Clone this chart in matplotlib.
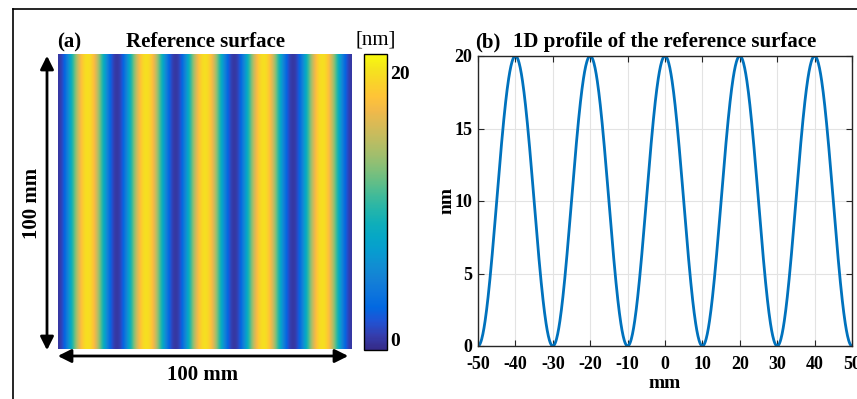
import numpy as np
import matplotlib
matplotlib.use('Agg')
import matplotlib.pyplot as plt
from matplotlib.colors import LinearSegmentedColormap, Normalize

# values
x_range_mm = [-50, 50]        # width of the reference surface
period_mm = 20                # distance between crests
peak_nm = 20                  # crest height
x_ticks = [-50, -40, -30, -20, -10, 0, 10, 20, 30, 40, 50]
y_ticks = [0, 5, 10, 15, 20]
cbar_ticks = [0, 20]
cbar_lim = [-0.8, 21.4]

# MATLAB parula (every 3rd entry of the 64 colour table)
parula_pts = [
    [0.2081, 0.1663, 0.5292], [0.2081, 0.2386, 0.6771], [0.1253, 0.3242, 0.8303],
    [0.0060, 0.4086, 0.8828], [0.0498, 0.4586, 0.8641], [0.0779, 0.5040, 0.8384],
    [0.0641, 0.5570, 0.8240], [0.0265, 0.6137, 0.8135], [0.0228, 0.6535, 0.7768],
    [0.0590, 0.6838, 0.7254], [0.1453, 0.7098, 0.6646], [0.2586, 0.7317, 0.5954],
    [0.3953, 0.7459, 0.5244], [0.5300, 0.7491, 0.4661], [0.6473, 0.7456, 0.4188],
    [0.7525, 0.7384, 0.3768], [0.8507, 0.7299, 0.3360], [0.9450, 0.7261, 0.2886],
    [0.9990, 0.7653, 0.2164], [0.9789, 0.8271, 0.1633], [0.9589, 0.8949, 0.1132],
    [0.9763, 0.9831, 0.0538],
]
parula = LinearSegmentedColormap.from_list('parula', parula_pts, N=256)

x = np.linspace(x_range_mm[0], x_range_mm[1], 1001)
profile = peak_nm / 2 * (1 + np.cos(2 * np.pi * x / period_mm))
surface = np.tile(profile, (200, 1))

plt.rcParams['font.family'] = 'Liberation Serif'
plt.rcParams['font.weight'] = 'bold'
plt.rcParams['axes.unicode_minus'] = False

W, H = 857, 399
fig = plt.figure(figsize=(W / 100, H / 100), dpi=100)

def fbox(x0, y0, x1, y1):
    return [x0 / W, 1 - y1 / H, (x1 - x0) / W, (y1 - y0) / H]

def fp(px, py):
    return (px / W, 1 - py / H)

# frame lines of the cropped picture
fig.add_artist(plt.Line2D([13 / W, 13 / W], [0, 1 - 9 / H], color='k', lw=1.2))
fig.add_artist(plt.Line2D([13 / W, 1], [1 - 9 / H, 1 - 9 / H], color='k', lw=1.2))

# (a) surface
ax1 = fig.add_axes(fbox(58, 54, 352, 349))
norm = Normalize(vmin=cbar_lim[0], vmax=cbar_lim[1])
im = ax1.imshow(surface, cmap=parula, norm=norm, aspect='auto',
                extent=[x_range_mm[0], x_range_mm[1], x_range_mm[0], x_range_mm[1]],
                interpolation='bilinear')
ax1.axis('off')

fig.text(*fp(57, 42), '(a)', fontsize=15, fontweight='bold', ha='left', va='center')
fig.text(*fp(206, 42), 'Reference surface', fontsize=15, fontweight='bold',
         ha='center', va='center')

cax = fig.add_axes(fbox(364, 54, 387, 350))
cb = fig.colorbar(im, cax=cax, ticks=cbar_ticks)
cb.ax.tick_params(labelsize=14, direction='in', length=0, pad=2)
for t in cb.ax.get_yticklabels():
    t.set_fontweight('bold')
cb.outline.set_linewidth(1.0)
fig.text(*fp(376, 40), '[nm]', fontsize=15, fontweight='normal', ha='center', va='center')

# arrows
fig.add_artist(matplotlib.patches.FancyArrowPatch(
    fp(47, 53), fp(47, 353), transform=fig.transFigure,
    arrowstyle='<|-|>,head_length=8,head_width=4', color='k', lw=2))
fig.add_artist(matplotlib.patches.FancyArrowPatch(
    fp(55, 356), fp(351, 356), transform=fig.transFigure,
    arrowstyle='<|-|>,head_length=8,head_width=4', color='k', lw=2))
fig.text(*fp(32, 203), '100 mm', fontsize=15, fontweight='bold', rotation=90,
         ha='center', va='center')
fig.text(*fp(203, 375), '100 mm', fontsize=15, fontweight='bold',
         ha='center', va='center')

# (b) profile
ax2 = fig.add_axes(fbox(478, 56, 852, 346))
ax2.plot(x, profile, color='#0072BD', lw=2)
ax2.set_xlim(x_range_mm)
ax2.set_ylim(0, peak_nm)
ax2.set_xticks(x_ticks)
ax2.set_yticks(y_ticks)
ax2.grid(True, color='#e3e3e3', lw=0.8)
ax2.set_axisbelow(True)
ax2.tick_params(direction='in', top=True, right=True, labelsize=13, length=4, color='#262626')
ax2.tick_params(axis='x', pad=7)
ax2.tick_params(axis='y', pad=4)
for t in ax2.get_xticklabels() + ax2.get_yticklabels():
    t.set_fontweight('bold')
for s in ax2.spines.values():
    s.set_color('#262626')
    s.set_linewidth(1.0)
ax2.set_xlabel('mm', fontsize=14, fontweight='bold', labelpad=2)
ax2.set_ylabel('nm', fontsize=14, fontweight='bold', labelpad=-1)

fig.text(*fp(475, 42), '(b)', fontsize=15, fontweight='bold', ha='left', va='center')
fig.text(*fp(665, 42), '1D profile of the reference surface', fontsize=15,
         fontweight='bold', ha='center', va='center')

fig.savefig('out.png', dpi=100)
